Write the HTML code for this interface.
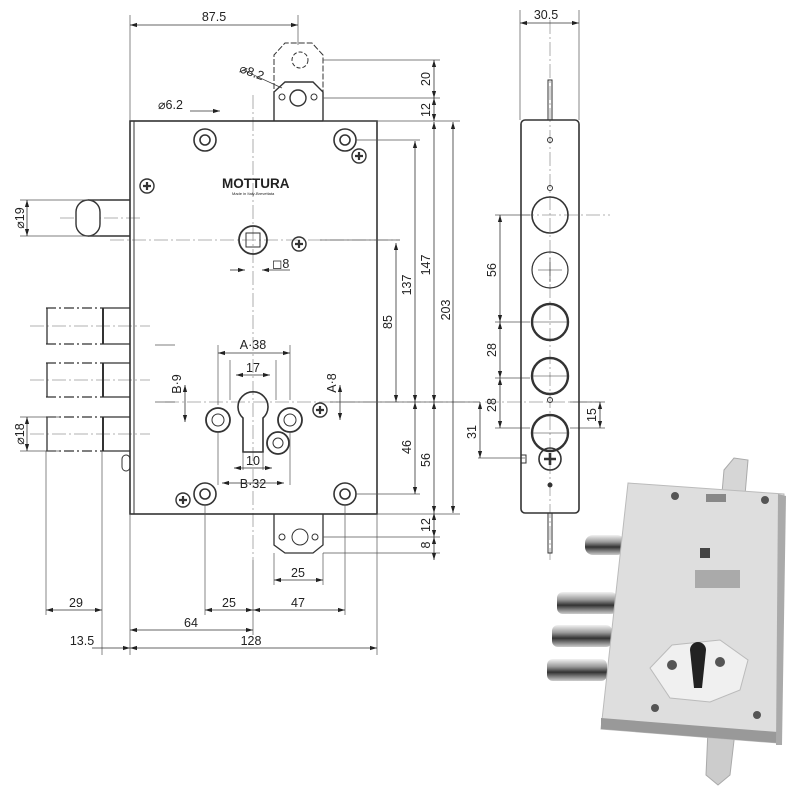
<!DOCTYPE html>
<html><head><meta charset="utf-8"><style>
html,body{margin:0;padding:0;background:#fff}
svg{display:block}
text{font-family:"Liberation Sans",sans-serif;fill:#222}
</style></head><body>
<svg width="800" height="800" viewBox="0 0 800 800" xmlns="http://www.w3.org/2000/svg">
<defs>
<marker id="a" viewBox="0 0 10 10" refX="10" refY="5" markerWidth="7" markerHeight="7" orient="auto-start-reverse" markerUnits="userSpaceOnUse"><path d="M0,2 L10,5 L0,8 z" fill="#222"/></marker>
<linearGradient id="bolt" x1="0" y1="0" x2="0" y2="1"><stop offset="0" stop-color="#f2f2f2"/><stop offset=".35" stop-color="#999"/><stop offset=".6" stop-color="#333"/><stop offset="1" stop-color="#ccc"/></linearGradient>
</defs>
<g stroke="#333" fill="none" stroke-width="1">
<g stroke="#999" stroke-dasharray="14,3,2,3" stroke-width="0.8">
<line x1="253" y1="95" x2="253" y2="560"/>
<line x1="165" y1="402" x2="480" y2="402"/>
<line x1="110" y1="240" x2="400" y2="240"/>
<line x1="60" y1="218" x2="140" y2="218"/>
<line x1="30" y1="326" x2="150" y2="326"/>
<line x1="30" y1="380" x2="150" y2="380"/>
<line x1="30" y1="434" x2="150" y2="434"/>
<line x1="550" y1="20" x2="550" y2="560"/>
<line x1="520" y1="215" x2="610" y2="215"/>
<line x1="485" y1="402" x2="600" y2="402"/>
</g>
<path d="M274,121 V55 L285,43 H312 L323,55 V121" stroke-dasharray="6,2" />
<path d="M274,121 V92 L285,82 H313 L323,92 V121" stroke-width="1.4"/>
<circle cx="300" cy="60" r="8" stroke-dasharray="4,2"/>
<circle cx="298" cy="98" r="8" stroke-width="1.4"/>
<circle cx="282" cy="97" r="3"/><circle cx="314" cy="97" r="3"/>
<path d="M274,514 V545 L285,553 H313 L323,545 V514" stroke-width="1.3"/>
<circle cx="300" cy="537" r="8"/><circle cx="282" cy="537" r="3"/><circle cx="315" cy="537" r="3"/>
<rect x="130" y="121" width="247" height="393" stroke-width="1.6"/>
<line x1="134" y1="121" x2="134" y2="514"/>
<g stroke-width="1.6">
<circle cx="205" cy="140" r="11"/><circle cx="205" cy="140" r="5"/>
<circle cx="345" cy="140" r="11"/><circle cx="345" cy="140" r="5"/>
<circle cx="205" cy="494" r="11"/><circle cx="205" cy="494" r="5"/>
<circle cx="345" cy="494" r="11"/><circle cx="345" cy="494" r="5"/>
</g>
<g stroke-width="1.4">
<circle cx="147" cy="186" r="7"/><circle cx="359" cy="156" r="7"/><circle cx="299" cy="244" r="7"/><circle cx="320" cy="410" r="7"/><circle cx="183" cy="500" r="7"/>
</g>
<g stroke-width="2.2">
<path d="M143,186h8M147,182v8 M355,156h8M359,152v8 M295,244h8M299,240v8 M316,410h8M320,406v8 M179,500h8M183,496v8"/>
</g>
<circle cx="253" cy="240" r="14" stroke-width="1.8"/>
<rect x="246" y="233" width="14" height="14"/>
<path d="M243,452 V418 A15,15 0 1 1 263,418 V452 Z" stroke-width="1.6"/>
<circle cx="218" cy="420" r="12" stroke-width="1.8"/><circle cx="218" cy="420" r="6"/>
<circle cx="290" cy="420" r="12" stroke-width="1.8"/><circle cx="290" cy="420" r="6"/>
<circle cx="278" cy="443" r="11" stroke-width="1.8"/><circle cx="278" cy="443" r="5"/>
<path d="M88,200 H130 M88,236 H130" stroke-width="1.4"/>
<rect x="76" y="200" width="24" height="36" rx="12" stroke-width="1.4" fill="#fff"/>
<g stroke-width="1.3">
<path d="M103,308 H130 M103,344 H130 M103,363 H130 M103,397 H130 M103,417 H130 M103,451 H130"/>
<path d="M103,308 V344 M103,363 V397 M103,417 V451" stroke-width="2"/>
<g stroke-dasharray="10,3,2,3"><path d="M46,308 H103 M46,344 H103 M46,363 H103 M46,397 H103 M46,417 H103 M46,451 H103"/></g>
<path d="M47,308 V344 M47,363 V397 M47,417 V451"/>
</g>
<rect x="122" y="455" width="8" height="16" rx="4"/>
<g stroke="#555" stroke-width="0.7">
<path d="M130,15 V121 M298,15 V45 M323,60 H440 M323,98 H440 M323,121 H460 M356,140 H420 M320,240 H400 M330,402 H480 M356,494 H420 M377,514 H460 M323,537 H440 M323,553 H440"/>
<path d="M20,200 H100 M20,236 H100 M20,417 H60 M20,451 H60"/>
<path d="M46,451 V615 M102,451 V655 M130,514 V655 M205,505 V615 M253,560 V635 M345,505 V615 M377,514 V655 M274,553 V585 M323,553 V585"/>
<path d="M155,345 H175 M155,402 H175 M290,345 V400 M218,345 V405 M230,360 V400 M276,360 V400 M243,452 V470 M263,452 V470 M218,432 V485 M290,432 V485"/>
<path d="M520,10 V120 M579,10 V120 M495,215 H530 M495,322 H530 M495,378 H530 M495,428 H530 M478,458 H525 M570,402 H605 M570,428 H605"/>
</g>
<g stroke="#333" stroke-width="0.8" marker-start="url(#a)" marker-end="url(#a)">
<line x1="130" y1="25" x2="298" y2="25"/>
<line x1="434" y1="60" x2="434" y2="98"/>
<line x1="434" y1="98" x2="434" y2="121"/>
<line x1="453" y1="122" x2="453" y2="513"/>
<line x1="434" y1="122" x2="434" y2="402"/>
<line x1="415" y1="141" x2="415" y2="402"/>
<line x1="396" y1="243" x2="396" y2="402"/>
<line x1="415" y1="402" x2="415" y2="494"/>
<line x1="434" y1="402" x2="434" y2="513"/>
<line x1="434" y1="513" x2="434" y2="537"/>
<line x1="434" y1="537" x2="434" y2="560"/>
<line x1="27" y1="200" x2="27" y2="236"/>
<line x1="27" y1="417" x2="27" y2="451"/>
<line x1="46" y1="610" x2="102" y2="610"/>
<line x1="205" y1="610" x2="253" y2="610"/>
<line x1="253" y1="610" x2="345" y2="610"/>
<line x1="130" y1="630" x2="253" y2="630"/>
<line x1="130" y1="648" x2="377" y2="648"/>
<line x1="274" y1="580" x2="323" y2="580"/>
<line x1="218" y1="353" x2="290" y2="353"/>
<line x1="236" y1="375" x2="270" y2="375"/>
<line x1="234" y1="468" x2="272" y2="468"/>
<line x1="222" y1="483" x2="284" y2="483"/>
<line x1="520" y1="23" x2="579" y2="23"/>
<line x1="500" y1="215" x2="500" y2="322"/>
<line x1="500" y1="322" x2="500" y2="378"/>
<line x1="500" y1="378" x2="500" y2="428"/>
<line x1="480" y1="402" x2="480" y2="458"/>
<line x1="600" y1="402" x2="600" y2="428"/>
<line x1="185" y1="385" x2="185" y2="422"/>
<line x1="340" y1="385" x2="340" y2="420"/>
</g>
<line x1="92" y1="648" x2="130" y2="648" stroke-width="0.8" marker-end="url(#a)"/>
<line x1="243" y1="70" x2="282" y2="88" stroke-width="0.7"/>
<line x1="190" y1="111" x2="220" y2="111" stroke-width="0.8" marker-end="url(#a)"/>
<line x1="230" y1="270" x2="245" y2="270" stroke-width="0.8" marker-end="url(#a)"/>
<line x1="290" y1="270" x2="262" y2="270" stroke-width="0.8" marker-end="url(#a)"/>
<rect x="548" y="80" width="4" height="40" stroke-width="1"/>
<rect x="548" y="513" width="4" height="40" stroke-width="1"/>
<rect x="521" y="120" width="58" height="393" rx="4" stroke-width="1.6"/>
<circle cx="550" cy="215" r="18" stroke-width="1.6"/>
<circle cx="550" cy="270" r="18" stroke-width="1.2"/>
<circle cx="550" cy="322" r="18" stroke-width="2.4"/>
<circle cx="550" cy="376" r="18" stroke-width="2.4"/>
<circle cx="550" cy="433" r="18" stroke-width="2.4"/>
<circle cx="550" cy="459" r="11" stroke-width="1.6"/>
<path d="M544,459h12M550,453v12" stroke-width="2.6"/>
<circle cx="550" cy="140" r="2.5"/><circle cx="550" cy="188" r="2.5"/><circle cx="550" cy="400" r="2.5"/><circle cx="550" cy="485" r="2" fill="#333"/>
<rect x="521" y="455" width="5" height="8"/>
<path d="M538,270h24M550,258v24M532,322h36M532,376h36M532,433h36" stroke-width="0.6"/>
</g>
<g>
<path d="M724,470 L734,458 L748,460 L745,495 L722,493Z" fill="#d6d6d6" stroke="#aaa"/>
<path d="M708,730 L735,732 L730,775 L718,785 L706,775Z" fill="#ccc" stroke="#aaa"/>
<rect x="585" y="535" width="40" height="20" rx="8" fill="url(#bolt)"/>
<rect x="557" y="592" width="60" height="22" rx="6" fill="url(#bolt)"/>
<rect x="552" y="625" width="60" height="22" rx="6" fill="url(#bolt)"/>
<rect x="547" y="659" width="60" height="22" rx="6" fill="url(#bolt)"/>
<path d="M628,483 L784,494 L778,743 L601,729 Z" fill="#dedede" stroke="#bbb"/>
<path d="M601,718 L778,732 L778,743 L601,729Z" fill="#999"/>
<path d="M778,494 L786,496 L782,745 L776,745Z" fill="#aaa"/>
<path d="M650,668 L672,645 L720,640 L748,660 L740,690 L710,702 L670,698Z" fill="#f0f0f0" stroke="#bbb"/>
<path d="M690,650 a8,8 0 0 1 16,0 L702,688 L694,688Z" fill="#222"/>
<circle cx="672" cy="665" r="5" fill="#555"/><circle cx="720" cy="662" r="5" fill="#555"/>
<circle cx="675" cy="496" r="4" fill="#555"/><circle cx="765" cy="500" r="4" fill="#555"/>
<circle cx="655" cy="708" r="4" fill="#555"/><circle cx="757" cy="715" r="4" fill="#555"/>
<rect x="700" y="548" width="10" height="10" fill="#444"/>
<rect x="695" y="570" width="45" height="18" fill="#aaa"/>
<rect x="706" y="494" width="20" height="8" fill="#888"/>
</g>
<g font-size="12.5">
<text x="214" y="21" text-anchor="middle">87.5</text>
<text x="158" y="109">⌀6.2</text>
<text x="238" y="76" transform="rotate(20 250 76)">⌀8.2</text>
<text x="272" y="268">◻8</text>
<text x="222" y="188" font-size="13.5" font-weight="bold" fill="#111">MOTTURA</text>
<text x="232" y="195" font-size="4" fill="#333">Made in Italy-Brevettata</text>
<text x="253" y="349" text-anchor="middle">A·38</text>
<text x="253" y="372" text-anchor="middle">17</text>
<text x="253" y="465" text-anchor="middle">10</text>
<text x="253" y="488" text-anchor="middle">B·32</text>
<text x="76" y="607" text-anchor="middle">29</text>
<text x="229" y="607" text-anchor="middle">25</text>
<text x="298" y="607" text-anchor="middle">47</text>
<text x="191" y="627" text-anchor="middle">64</text>
<text x="251" y="645" text-anchor="middle">128</text>
<text x="82" y="645" text-anchor="middle">13.5</text>
<text x="298" y="577" text-anchor="middle">25</text>
<text x="546" y="19" text-anchor="middle">30.5</text>
</g>
<g font-size="12.5" text-anchor="middle">
<text transform="translate(430,79) rotate(-90)">20</text>
<text transform="translate(430,110) rotate(-90)">12</text>
<text transform="translate(392,322) rotate(-90)">85</text>
<text transform="translate(411,285) rotate(-90)">137</text>
<text transform="translate(430,265) rotate(-90)">147</text>
<text transform="translate(450,310) rotate(-90)">203</text>
<text transform="translate(411,447) rotate(-90)">46</text>
<text transform="translate(430,460) rotate(-90)">56</text>
<text transform="translate(430,525) rotate(-90)">12</text>
<text transform="translate(430,545) rotate(-90)">8</text>
<text transform="translate(24,218) rotate(-90)">⌀19</text>
<text transform="translate(24,434) rotate(-90)">⌀18</text>
<text transform="translate(181,384) rotate(-90)">B·9</text>
<text transform="translate(336,383) rotate(-90)">A·8</text>
<text transform="translate(496,270) rotate(-90)">56</text>
<text transform="translate(496,350) rotate(-90)">28</text>
<text transform="translate(496,405) rotate(-90)">28</text>
<text transform="translate(476,432) rotate(-90)">31</text>
<text transform="translate(596,415) rotate(-90)">15</text>
</g>
</svg>
</body></html>
